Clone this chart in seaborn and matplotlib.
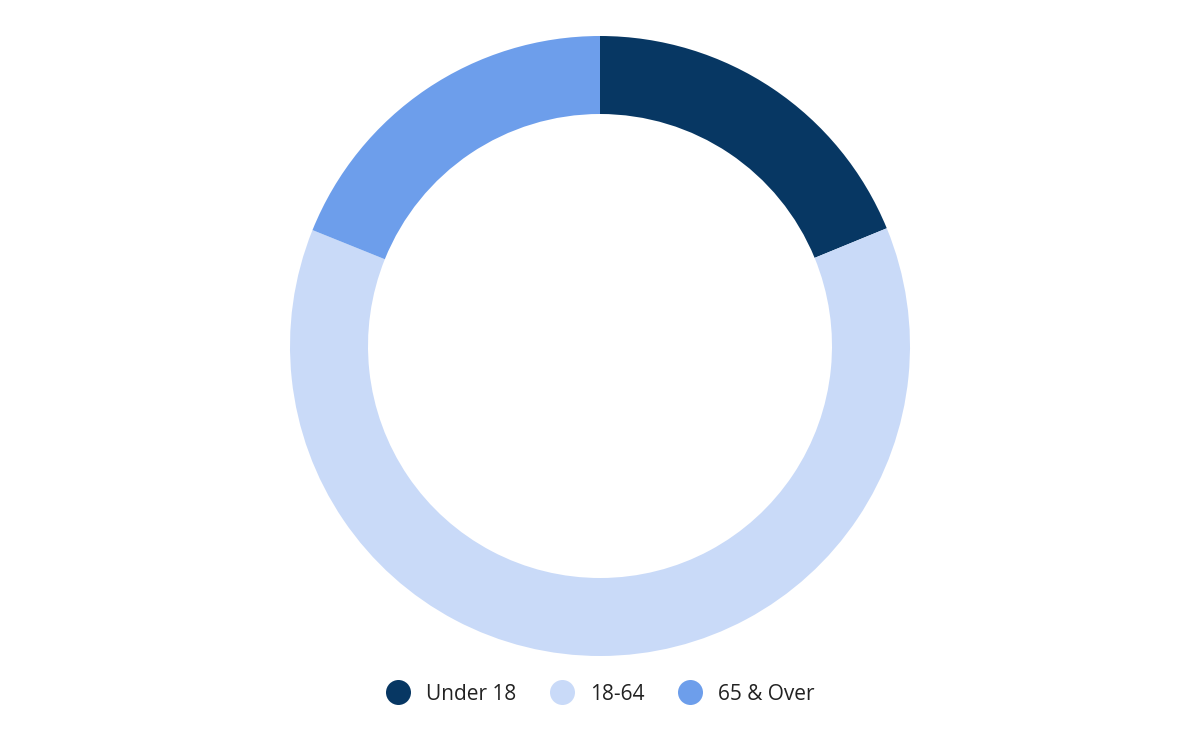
import matplotlib
matplotlib.use("Agg")
import matplotlib.pyplot as plt
from matplotlib.lines import Line2D
import seaborn as sns

# age groups share (percent), read from the ring
groups = ["Under 18", "18-64", "65 & Over"]
shares = [18.8, 62.3, 18.9]
colors = ["#073763", "#c9daf8", "#6d9eeb"]

sns.set_theme(style="white")
plt.rcParams["font.family"] = ["Open Sans", "DejaVu Sans"]

fig = plt.figure(figsize=(12, 7.42), dpi=100)
W, H = 1200, 742
cx, cy, r = 600, 346, 310
ax = fig.add_axes([(cx - r) / W, (H - cy - r) / H, 2 * r / W, 2 * r / H])

ax.pie(shares, colors=colors, startangle=90, counterclock=False,
       radius=1, wedgeprops=dict(width=78 / 310, linewidth=0))
ax.set_xlim(-1, 1)
ax.set_ylim(-1, 1)
ax.set_aspect("equal")
ax.axis("off")

handles = [Line2D([], [], marker="o", linestyle="none", markersize=18,
                  markerfacecolor=c, markeredgewidth=0) for c in colors]
fig.legend(handles, groups, loc="center", bbox_to_anchor=(0.5, 1 - 694 / H),
           ncol=3, frameon=False, fontsize=15, handletextpad=0.75,
           columnspacing=1.6, labelcolor="#222222", handlelength=1.2)

fig.savefig("out.png", dpi=100, facecolor="white")
